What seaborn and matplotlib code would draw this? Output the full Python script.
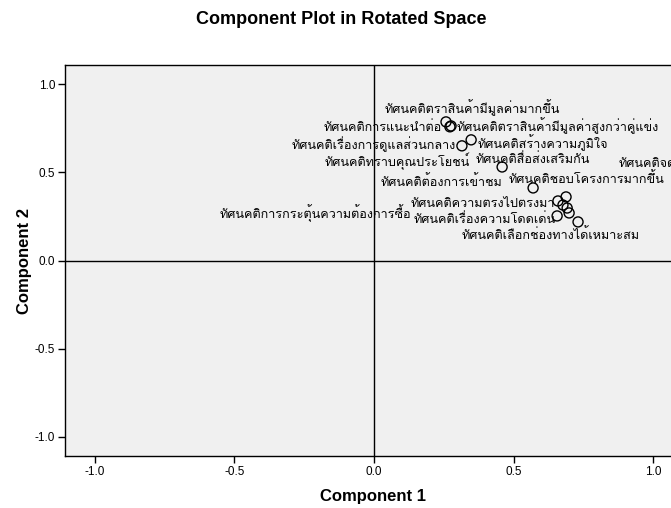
import matplotlib
matplotlib.use("Agg")
import matplotlib.pyplot as plt
from matplotlib import font_manager as fm
from matplotlib.ft2font import FT2Font
import seaborn as sns
import pandas as pd

# Rotated component loadings
labels = [
    "ทัศนคติตราสินค้ามีมูลค่ามากขึ้น",
    "ทัศนคติการแนะนำต่อ",
    "ทัศนคติตราสินค้ามีมูลค่าสูงกว่าคู่แข่ง",
    "ทัศนคติเรื่องการดูแลส่วนกลาง",
    "ทัศนคติสร้างความภูมิใจ",
    "ทัศนคติสื่อส่งเสริมกัน",
    "ทัศนคติชอบโครงการมากขึ้น",
    "ทัศนคติจดจำง่าย",
    "ทัศนคติความตรงไปตรงมา",
    "ทัศนคติการกระตุ้นความต้องการซื้อ",
    "ทัศนคติต้องการเข้าชม",
    "ทัศนคติทราบคุณประโยชน์",
    "ทัศนคติเรื่องความโดดเด่น",
    "ทัศนคติเลือกช่องทางได้เหมาะสม",
]
component1 = [0.258, 0.272, 0.276, 0.315, 0.348, 0.459, 0.570,
              0.688, 0.659, 0.677, 0.692, 0.699, 0.656, 0.731]
component2 = [0.787, 0.759, 0.764, 0.651, 0.685, 0.531, 0.412,
              0.361, 0.338, 0.315, 0.298, 0.270, 0.253, 0.219]
tick_values = [-1.0, -0.5, 0.0, 0.5, 1.0]
tick_labels = ["-1.0", "-0.5", "0.0", "0.5", "1.0"]

# Label placement (offset in pixels from the point, horizontal alignment)
label_layout = [
    (-61, 9, "left"), (-8, -4, "right"), (6, -5, "left"), (-6, -3, "right"),
    (6, -8, "left"), (-27, 4, "left"), (-25, 5, "left"), (53, 30, "left"),
    (-147, -6, "left"), (-343, -13, "left"), (-187, 22, "left"),
    (-245, 47, "left"), (-144, -7, "left"), (-116, -17, "left"),
]


def find_thai_family():
    for f in fm.fontManager.ttflist:
        try:
            if 0x0E17 in FT2Font(f.fname).get_charmap():
                return f.name
        except Exception:
            continue
    return None


sns.set_theme(style="white")
thai = find_thai_family()
base = ["Liberation Sans", "DejaVu Sans"]
label_family = ([thai] if thai else []) + base
plt.rcParams["font.family"] = base
plt.rcParams["text.color"] = "black"

df = pd.DataFrame({"label": labels, "c1": component1, "c2": component2})

fig = plt.figure(figsize=(6.71, 5.08), dpi=100)
fig.patch.set_facecolor("white")
W, H = 671, 508
left, right, top, bottom = 65, 683, 65, 456
ax = fig.add_axes([left / W, 1 - bottom / H, (right - left) / W, (bottom - top) / H])
ax.set_facecolor("#f0f0f0")

ax.axhline(0, color="black", lw=1.0, zorder=1)
ax.axvline(0, color="black", lw=1.0, zorder=1)

sns.scatterplot(data=df, x="c1", y="c2", ax=ax, marker="o", s=52,
                facecolor="none", edgecolor="black", linewidth=1.0, zorder=3)

for (txt, x, y), (dx, dy, ha) in zip(zip(labels, component1, component2), label_layout):
    ax.annotate(txt, xy=(x, y), xytext=(dx, dy), textcoords="offset pixels",
                ha=ha, va="baseline", fontsize=9.1, family=label_family,
                color="black", zorder=4)

ax.set_xlim(-1.107, 1.107)
ax.set_ylim(-1.11, 1.11)
ax.set_xticks(tick_values)
ax.set_xticklabels(tick_labels)
ax.set_yticks(tick_values)
ax.set_yticklabels(tick_labels)
ax.tick_params(axis="both", direction="out", length=5, width=1, color="black",
               labelsize=8.5, labelcolor="black", pad=2,
               bottom=True, left=True, top=False, right=False)
ax.set_xlabel("")
ax.set_ylabel("")
for sp in ax.spines.values():
    sp.set_color("black")
    sp.set_linewidth(1.0)

fig.text(341 / W, 1 - 20 / H, "Component Plot in Rotated Space", ha="center",
         va="center", fontsize=13, fontweight="bold", color="black")
fig.text(373 / W, 1 - 497 / H, "Component 1", ha="center", va="center",
         fontsize=12, fontweight="bold", color="black")
fig.text(25 / W, 1 - 261 / H, "Component 2", ha="center", va="center",
         rotation=90, fontsize=12, fontweight="bold", color="black")

fig.savefig("out.png", dpi=100)
